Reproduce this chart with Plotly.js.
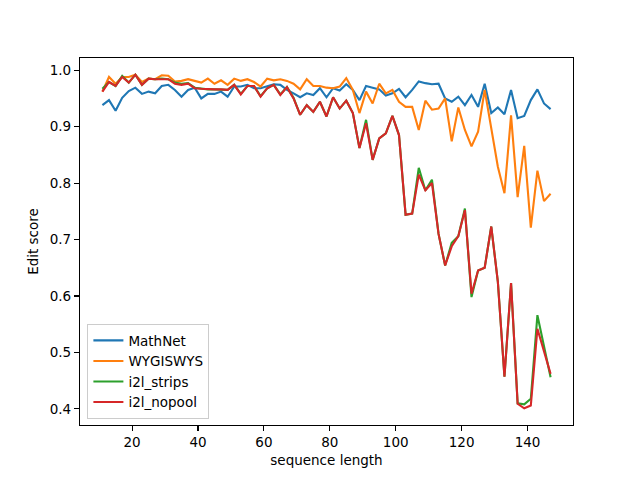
<!DOCTYPE html>
<html>
<head>
<meta charset="utf-8">
<script src="https://cdn.plot.ly/plotly-3.0.1.min.js"></script>
<style>
  html, body { margin: 0; padding: 0; background: #fff; }
  #chart { width: 640px; height: 480px; }
</style>
</head>
<body>
<div id="chart"></div>
<script>
// sequence lengths 11, 13, ..., 147
const seqLength = [
    11, 13, 15, 17, 19, 21, 23, 25, 27, 29, 31, 33, 35, 37, 39, 41, 43, 45, 47, 49,
    51, 53, 55, 57, 59, 61, 63, 65, 67, 69, 71, 73, 75, 77, 79, 81, 83, 85, 87, 89,
    91, 93, 95, 97, 99, 101, 103, 105, 107, 109, 111, 113, 115, 117, 119, 121, 123, 125, 127, 129,
    131, 133, 135, 137, 139, 141, 143, 145, 147
];

const mathNet = [
    0.938, 0.947, 0.928, 0.951, 0.963, 0.969, 0.958, 0.962, 0.959, 0.972,
    0.974, 0.965, 0.953, 0.965, 0.969, 0.950, 0.958, 0.958, 0.962, 0.953,
    0.971, 0.971, 0.974, 0.968, 0.968, 0.971, 0.975, 0.974, 0.965, 0.959,
    0.952, 0.959, 0.956, 0.968, 0.952, 0.968, 0.964, 0.975, 0.965, 0.947,
    0.972, 0.969, 0.966, 0.955, 0.959, 0.967, 0.952, 0.965, 0.980, 0.977,
    0.975, 0.976, 0.950, 0.944, 0.953, 0.938, 0.956, 0.935, 0.976, 0.924,
    0.934, 0.922, 0.965, 0.915, 0.919, 0.947, 0.966, 0.941, 0.931
];

const wygiswys = [
    0.962, 0.988, 0.976, 0.988, 0.988, 0.992, 0.979, 0.985, 0.984, 0.991,
    0.990, 0.980, 0.981, 0.984, 0.981, 0.978, 0.985, 0.976, 0.982, 0.974,
    0.985, 0.981, 0.984, 0.979, 0.971, 0.985, 0.982, 0.984, 0.981, 0.976,
    0.966, 0.984, 0.972, 0.972, 0.969, 0.968, 0.971, 0.986, 0.965, 0.924,
    0.962, 0.941, 0.976, 0.959, 0.965, 0.944, 0.935, 0.935, 0.894, 0.946,
    0.930, 0.932, 0.950, 0.874, 0.934, 0.894, 0.865, 0.891, 0.965, 0.897,
    0.829, 0.782, 0.920, 0.775, 0.866, 0.721, 0.822, 0.768, 0.781
];

const i2lStrips = [
    0.967, 0.979, 0.972, 0.990, 0.978, 0.992, 0.974, 0.985, 0.984, 0.985,
    0.984, 0.978, 0.976, 0.977, 0.969, 0.967, 0.966, 0.966, 0.966, 0.965,
    0.974, 0.958, 0.972, 0.972, 0.954, 0.968, 0.974, 0.957, 0.970, 0.951,
    0.921, 0.938, 0.926, 0.944, 0.918, 0.952, 0.932, 0.946, 0.924, 0.862,
    0.912, 0.841, 0.879, 0.888, 0.919, 0.885, 0.744, 0.746, 0.827, 0.787,
    0.806, 0.710, 0.654, 0.694, 0.706, 0.755, 0.598, 0.645, 0.650, 0.723,
    0.625, 0.457, 0.623, 0.410, 0.408, 0.418, 0.566, 0.511, 0.456
];

const i2lNopool = [
    0.962, 0.979, 0.972, 0.988, 0.978, 0.992, 0.974, 0.985, 0.984, 0.984,
    0.984, 0.976, 0.974, 0.976, 0.968, 0.967, 0.966, 0.966, 0.966, 0.965,
    0.974, 0.957, 0.972, 0.972, 0.953, 0.968, 0.974, 0.956, 0.970, 0.950,
    0.921, 0.938, 0.926, 0.944, 0.918, 0.952, 0.932, 0.946, 0.924, 0.862,
    0.906, 0.841, 0.879, 0.888, 0.919, 0.885, 0.744, 0.746, 0.815, 0.787,
    0.800, 0.710, 0.654, 0.688, 0.706, 0.752, 0.604, 0.645, 0.650, 0.723,
    0.625, 0.457, 0.623, 0.409, 0.401, 0.406, 0.542, 0.502, 0.462
];

const seriesNames = ['MathNet', 'WYGISWYS', 'i2l_strips', 'i2l_nopool'];
const seriesColors = ['#1f77b4', '#ff7f0e', '#2ca02c', '#d62728'];
const seriesValues = [mathNet, wygiswys, i2lStrips, i2lNopool];

// matplotlib-style 5% padding around the data
function paddedRange(values) {
    const lo = Math.min(...values);
    const hi = Math.max(...values);
    const pad = (hi - lo) * 0.05;
    return [lo - pad, hi + pad];
}

const allValues = [].concat(...seriesValues);

const traces = seriesValues.map((values, i) => ({
    type: 'scatter',
    mode: 'lines',
    name: seriesNames[i],
    x: seqLength,
    y: values,
    line: { color: seriesColors[i], width: 2.1 }
}));

const axisStyle = {
    showgrid: false,
    zeroline: false,
    showline: true,
    mirror: true,
    linecolor: '#000',
    linewidth: 1.1,
    ticks: 'outside',
    ticklen: 5,
    tickwidth: 1.1,
    tickcolor: '#000',
    tickfont: { size: 13.5, color: '#000' }
};

const layout = {
    width: 640,
    height: 480,
    margin: { l: 80, r: 67, t: 58, b: 55 },
    paper_bgcolor: '#fff',
    plot_bgcolor: '#fff',
    font: { family: 'DejaVu Sans, sans-serif', size: 13.5, color: '#000' },
    xaxis: {
        ...axisStyle,
        range: paddedRange(seqLength),
        tickvals: [20, 40, 60, 80, 100, 120, 140],
        title: { text: 'sequence length', font: { size: 13.5 }, standoff: 6 }
    },
    yaxis: {
        ...axisStyle,
        range: paddedRange(allValues),
        tickvals: [0.4, 0.5, 0.6, 0.7, 0.8, 0.9, 1.0],
        tickformat: '.1f',
        title: { text: 'Edit score', font: { size: 13.5 }, standoff: 8 }
    },
    showlegend: true,
    legend: {
        x: 0.015,
        y: 0.016,
        xanchor: 'left',
        yanchor: 'bottom',
        bgcolor: 'rgba(255,255,255,0.8)',
        bordercolor: '#cccccc',
        borderwidth: 1,
        font: { size: 13.5 },
        tracegroupgap: 0
    }
};

Plotly.newPlot('chart', traces, layout, { displayModeBar: false, staticPlot: true });
</script>
</body>
</html>
